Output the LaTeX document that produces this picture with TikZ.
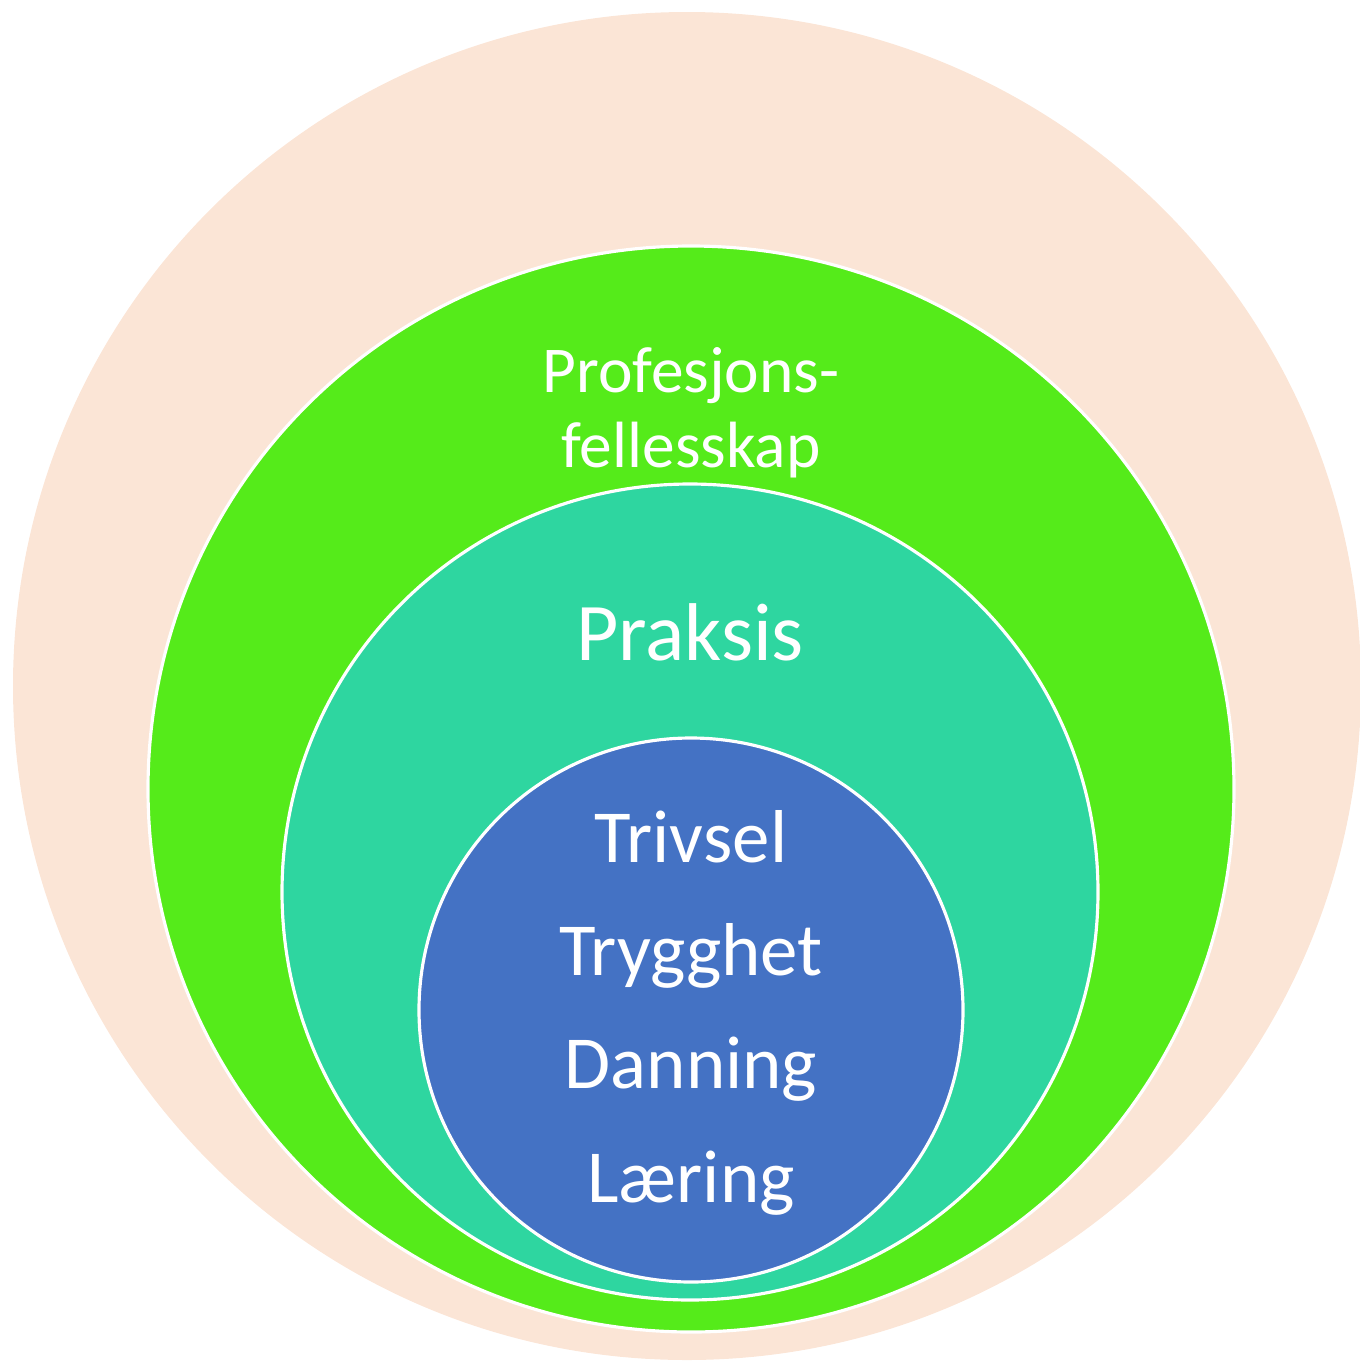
\documentclass[tikz,border=0pt]{standalone}
\usepackage{fontspec}
\setmainfont{Carlito}
\definecolor{peach}{HTML}{FBE5D6}
\definecolor{lime}{HTML}{55EB1A}
\definecolor{teal}{HTML}{2ED6A0}
\definecolor{steel}{HTML}{4472C4}
\begin{document}
\begin{tikzpicture}[x=0.01cm,y=-0.01cm,
  ring/.style={draw=white,line width=0.9pt},
  lbl/.style={text=white,anchor=base,inner sep=0pt}]
\useasboundingbox (0,0) rectangle (1360,1363);
\fill[peach](687,686) circle[radius=674];
\filldraw[ring,fill=lime](691,789) circle[radius=543];
\filldraw[ring,fill=teal](690,892) circle[radius=408];
\filldraw[ring,fill=steel](691,1010) circle[radius=272];
\node[lbl,font=\fontsize{18.6}{22}\selectfont](prof) at (691,392){Profesjons-};
\node[lbl,font=\fontsize{18.6}{22}\selectfont](fell) at (691,467){fellesskap};
\node[lbl,font=\fontsize{23.3}{28}\selectfont](praksis) at (690,660){Praksis};
\node[lbl,font=\fontsize{21.3}{26}\selectfont](trivsel) at (691,862){Trivsel};
\node[lbl,font=\fontsize{21.3}{26}\selectfont](trygghet) at (691,975){Trygghet};
\node[lbl,font=\fontsize{21.3}{26}\selectfont](danning) at (691,1088){Danning};
\node[lbl,font=\fontsize{21.3}{26}\selectfont](laering) at (691,1202){Læring};
\end{tikzpicture}
\end{document}
